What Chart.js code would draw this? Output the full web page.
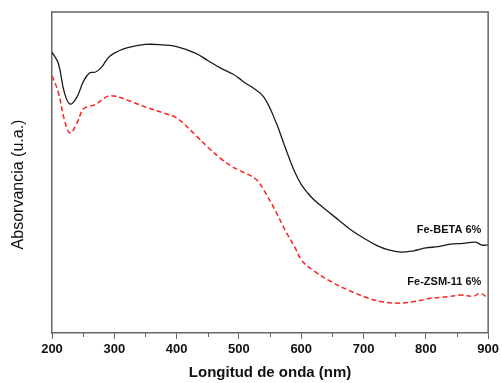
<!DOCTYPE html>
<html>
<head>
<meta charset="utf-8">
<script src="https://cdn.jsdelivr.net/npm/chart.js@4/dist/chart.umd.min.js"></script>
<style>
  html, body { margin: 0; padding: 0; background: #fff; }
  #wrap { width: 502px; height: 383px; }
</style>
</head>
<body>
<div id="wrap"><canvas id="c" width="502" height="383"></canvas></div>
<script>
// Wavelength (nm) and absorbance (a.u.)
const betaNm  = [200, 210, 220, 229, 240, 250, 260, 270, 280, 290, 300, 320, 350, 380, 400, 430, 450, 470, 490, 500, 510, 520, 540, 560, 570, 580, 590, 600, 610, 620, 640, 660, 680, 700, 720, 740, 760, 780, 800, 820, 840, 860, 880, 890, 900];
const betaAbs = [0.875, 0.841, 0.748, 0.713, 0.735, 0.782, 0.810, 0.813, 0.829, 0.857, 0.872, 0.888, 0.899, 0.897, 0.892, 0.872, 0.849, 0.826, 0.807, 0.794, 0.779, 0.767, 0.735, 0.654, 0.601, 0.548, 0.500, 0.463, 0.437, 0.416, 0.383, 0.352, 0.321, 0.296, 0.274, 0.259, 0.252, 0.256, 0.265, 0.269, 0.277, 0.279, 0.283, 0.274, 0.274];

const zsmNm  = [200, 210, 220, 229, 240, 250, 260, 270, 280, 290, 300, 320, 350, 380, 400, 430, 450, 470, 490, 500, 510, 520, 530, 540, 558, 574, 590, 601, 622, 648, 675, 707, 728, 755, 781, 808, 835, 856, 877, 887, 900];
const zsmAbs = [0.801, 0.751, 0.664, 0.623, 0.654, 0.698, 0.706, 0.712, 0.726, 0.738, 0.738, 0.726, 0.704, 0.685, 0.670, 0.617, 0.579, 0.545, 0.517, 0.508, 0.498, 0.489, 0.474, 0.445, 0.383, 0.321, 0.266, 0.226, 0.191, 0.160, 0.134, 0.109, 0.098, 0.093, 0.098, 0.108, 0.113, 0.118, 0.115, 0.124, 0.108];

const seriesNames = ['Fe-BETA 6%', 'Fe-ZSM-11 6%'];
// label anchors in data coordinates (right edge, vertical middle)
const labelAnchorNm  = [889, 889];
const labelAnchorAbs = [0.322, 0.160];

const xMin = 200, xMax = 900, xStep = 100, xMinorStep = 50;
const yTitle = 'Absorvancia (u.a.)';

const toPts = (xs, ys) => xs.map((x, i) => ({ x: x, y: ys[i] }));

const framePlugin = {
  id: 'frame',
  afterDraw(chart) {
    const { ctx, chartArea: a, scales } = chart;
    ctx.save();
    ctx.strokeStyle = '#666';
    ctx.lineWidth = 1.5;
    ctx.beginPath();
    ctx.moveTo(a.left, a.top);
    ctx.lineTo(a.right, a.top);
    ctx.lineTo(a.right, a.bottom);
    ctx.stroke();
    // minor ticks
    ctx.lineWidth = 1;
    ctx.beginPath();
    for (let v = xMin + xMinorStep; v < xMax; v += xStep) {
      const px = Math.round(scales.x.getPixelForValue(v)) + 0.5;
      ctx.moveTo(px, a.bottom);
      ctx.lineTo(px, a.bottom + 4);
    }
    ctx.stroke();
    // series labels
    ctx.fillStyle = '#111';
    ctx.font = 'bold 11px "Liberation Sans", Arial, sans-serif';
    ctx.textAlign = 'right';
    ctx.textBaseline = 'middle';
    seriesNames.forEach((n, i) => {
      ctx.fillText(n, scales.x.getPixelForValue(labelAnchorNm[i]), scales.y.getPixelForValue(labelAnchorAbs[i]));
    });
    // y axis title (sits a little below the axis centre, as in the original)
    ctx.font = '16px "Liberation Sans", Arial, sans-serif';
    ctx.textAlign = 'center';
    ctx.translate(scales.y.left + 19, (a.top + a.bottom) / 2 + 12);
    ctx.rotate(-Math.PI / 2);
    ctx.fillText(yTitle, 0, 0);
    ctx.restore();
  }
};

new Chart(document.getElementById('c'), {
  type: 'line',
  data: {
    datasets: [
      {
        label: seriesNames[0],
        data: toPts(betaNm, betaAbs),
        borderColor: '#1a1a1a',
        borderWidth: 1.3,
        pointRadius: 0,
        tension: 0.4,
        fill: false
      },
      {
        label: seriesNames[1],
        data: toPts(zsmNm, zsmAbs),
        borderColor: '#ff2020',
        borderWidth: 1.5,
        borderDash: [5, 3],
        pointRadius: 0,
        tension: 0.4,
        fill: false
      }
    ]
  },
  options: {
    responsive: false,
    animation: false,
    devicePixelRatio: 1,
    layout: { padding: { top: 12, right: 11, left: 0, bottom: 0 } },
    plugins: { legend: { display: false }, tooltip: { enabled: false } },
    scales: {
      x: {
        type: 'linear',
        min: xMin, max: xMax,
        afterFit(s) { s.height = 50; },
        ticks: {
          stepSize: xStep,
          autoSkip: false,
          maxRotation: 0,
          padding: 3,
          color: '#111',
          font: { family: '"Liberation Sans", Arial, sans-serif', size: 13, weight: 'bold' }
        },
        grid: { drawOnChartArea: false, drawTicks: true, tickLength: 6, tickColor: '#666', tickWidth: 1 },
        border: { display: true, color: '#666', width: 1.5 },
        title: {
          display: true,
          text: 'Longitud de onda (nm)',
          color: '#111',
          padding: { top: 0, bottom: 1 },
          font: { family: '"Liberation Sans", Arial, sans-serif', size: 15, weight: 'bold' }
        }
      },
      y: {
        min: 0, max: 1,
        afterFit(s) { s.width = 52; },
        ticks: { display: false },
        grid: { display: false, drawTicks: false },
        border: { display: true, color: '#666', width: 1.5 },
        title: { display: false }
      }
    }
  },
  plugins: [framePlugin]
});
</script>
</body>
</html>
